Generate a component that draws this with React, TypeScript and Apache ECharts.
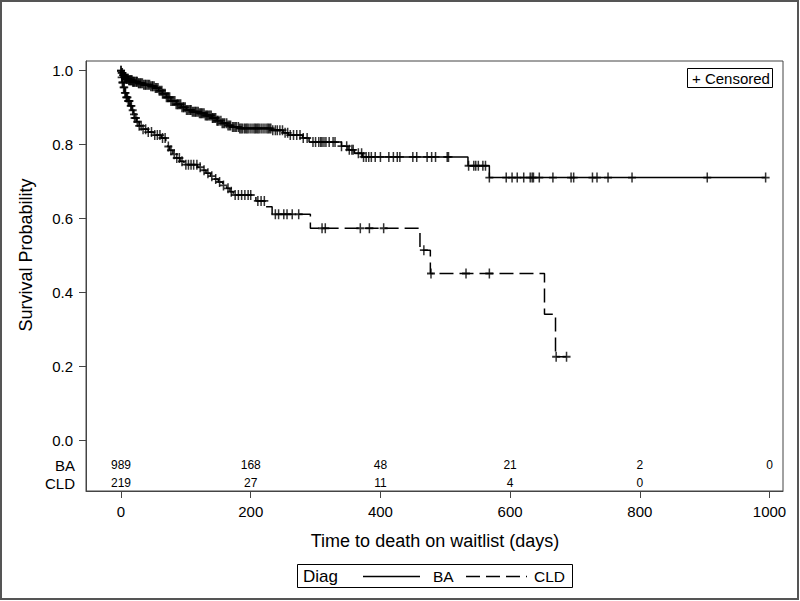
import React, { useEffect, useRef } from "react";
import * as echarts from "echarts";

const FONT = "'Liberation Sans', Arial, Helvetica, sans-serif";

// Kaplan-Meier step data (days, survival after step)
const baTimes = [0, 1, 3, 5, 8, 12, 18, 26, 35, 45, 52, 58, 64, 70, 77, 85, 93, 101, 110, 120, 130, 140, 148, 156, 164, 172, 182, 232, 250, 258, 280, 290, 340, 350, 360, 372, 535, 568, 994];
const baSurv = [1.0, 0.994, 0.988, 0.983, 0.978, 0.974, 0.97, 0.966, 0.962, 0.958, 0.953, 0.946, 0.938, 0.928, 0.918, 0.909, 0.901, 0.894, 0.889, 0.885, 0.879, 0.872, 0.865, 0.858, 0.852, 0.848, 0.844, 0.839, 0.832, 0.826, 0.818, 0.807, 0.796, 0.786, 0.777, 0.767, 0.743, 0.711, 0.711];
const baCensor = [0, 1, 2, 3, 4, 5, 6, 7, 8, 9, 10, 11, 12, 13, 14, 15, 16, 17, 18, 19, 20, 21, 23, 24, 25, 27, 28, 30, 31, 33, 35, 37, 38, 40, 42, 44, 46, 48, 49, 51, 53, 55, 57, 59, 61, 63, 64, 66, 68, 70, 72, 73, 75, 77, 79, 81, 83, 85, 87, 88, 90, 92, 94, 96, 97, 99, 101, 103, 105, 107, 108, 110, 112, 114, 115, 117, 119, 121, 123, 124, 126, 128, 130, 132, 133, 135, 137, 139, 141, 142, 144, 146, 148, 149, 151, 154, 156, 158, 160, 163, 165, 167, 169, 172, 174, 176, 178, 181, 183, 185, 187, 190, 192, 194, 196, 199, 202, 205, 207, 209, 211, 213, 216, 219, 222, 225, 227, 229, 231, 234, 238, 241, 245, 249, 253, 257, 261, 266, 271, 276, 281, 287, 296, 300, 305, 308, 310, 313, 316, 321, 327, 330, 340, 348, 352, 356, 358, 366, 371, 374, 378, 382, 386, 392, 400, 413, 420, 426, 430, 450, 456, 472, 479, 485, 503, 505, 536, 544, 547, 551, 558, 562, 568, 594, 603, 611, 621, 631, 634, 636, 645, 666, 694, 698, 727, 734, 751, 788, 904, 994];

const cldTimes = [0, 1, 2, 4, 6, 8, 11, 14, 17, 19, 21, 24, 28, 33, 42, 50, 62, 69, 72, 75, 80, 85, 91, 97, 118, 124, 131, 138, 143, 150, 157, 163, 168, 173, 208, 222, 233, 292, 461, 477, 653, 670, 687];
const cldSurv = [1.0, 0.982, 0.968, 0.955, 0.94, 0.928, 0.918, 0.905, 0.893, 0.882, 0.872, 0.862, 0.851, 0.842, 0.834, 0.826, 0.818, 0.805, 0.795, 0.785, 0.774, 0.764, 0.755, 0.746, 0.739, 0.731, 0.723, 0.715, 0.707, 0.699, 0.69, 0.682, 0.673, 0.664, 0.648, 0.632, 0.612, 0.574, 0.515, 0.452, 0.342, 0.227, 0.227];
const cldCensor = [0, 1, 2, 3, 4, 5, 6, 7, 8, 9, 10, 11, 12, 13, 15, 16, 18, 20, 21, 23, 25, 28, 31, 34, 38, 42, 47, 52, 56, 60, 64, 68, 73, 77, 82, 86, 90, 94, 100, 104, 108, 112, 117, 122, 128, 134, 140, 146, 152, 158, 165, 170, 176, 181, 186, 191, 196, 200, 211, 216, 221, 238, 243, 251, 256, 264, 274, 310, 315, 369, 383, 405, 467, 478, 532, 568, 671, 687];

const xTicks = [0, 200, 400, 600, 800, 1000];
const yTicks = [0, 0.2, 0.4, 0.6, 0.8, 1.0];
const riskDays = [0, 200, 400, 600, 800, 1000];
const baAtRisk = [989, 168, 48, 21, 2, 0];
const cldAtRisk = [219, 27, 11, 4, 0];

// layout constants (pixel rows of the at-risk table)
const ROW_BA_PX = 465;
const ROW_CLD_PX = 483;
const PLUS = "path://M7.3,0H10.7V7.3H18V10.7H10.7V18H7.3V10.7H0V7.3H7.3Z";

function survAt(times: number[], surv: number[], t: number) {
  let s = surv[0];
  for (let i = 0; i < times.length; i++) {
    if (times[i] <= t) s = surv[i];
    else break;
  }
  return s;
}

export default function App() {
  const ref = useRef<HTMLDivElement>(null);
  useEffect(() => {
    const chart = echarts.init(ref.current!, null, { renderer: "svg" });
    const txt = (text: string, x: number, y: number, size: number, align = "left", extra: any = {}) => ({
      type: "text",
      x,
      y,
      ...extra,
      style: {
        text,
        font: `${size}px ${FONT}`,
        fill: "#000",
        align,
        verticalAlign: "middle",
        textAlign: align,
        textVerticalAlign: "middle",
      },
    });
    const staticGraphics: any[] = [
      {
        type: "rect",
        shape: { x: 1, y: 1, width: 797, height: 598 },
        style: { fill: "none", stroke: "#555", lineWidth: 2 },
        silent: true,
      },
      {
        type: "rect",
        shape: { x: 687.5, y: 68.5, width: 85, height: 19 },
        style: { fill: "#fff", stroke: "#000", lineWidth: 1 },
        z: 10,
      },
      txt("+ Censored", 692, 78, 15, "left", { z: 11 }),
      txt("BA", 75, ROW_BA_PX, 15, "right"),
      txt("CLD", 75, ROW_CLD_PX, 15, "right"),
      txt("Time to death on waitlist (days)", 435, 541, 18, "center"),
      txt("Survival Probability", 26, 255, 18, "center", { rotation: Math.PI / 2 }),
      {
        type: "rect",
        shape: { x: 297.5, y: 564.5, width: 275, height: 23 },
        style: { fill: "#fff", stroke: "#000", lineWidth: 1 },
      },
      txt("Diag", 303, 576, 17, "left"),
      {
        type: "line",
        shape: { x1: 363, y1: 576.5, x2: 420, y2: 576.5 },
        style: { stroke: "#000", lineWidth: 1.3 },
      },
      txt("BA", 433, 576, 15.5, "left"),
      {
        type: "line",
        shape: { x1: 466, y1: 576.5, x2: 527, y2: 576.5 },
        style: { stroke: "#000", lineWidth: 1.3, lineDash: [14, 6] },
      },
      txt("CLD", 534, 576, 15.5, "left"),
    ];
    chart.setOption({
      animation: false,
      backgroundColor: "#fff",
      grid: {
        left: 86,
        top: 61,
        width: 697,
        height: 430,
        show: true,
        borderColor: "#444",
        borderWidth: 1,
        backgroundColor: "transparent",
      },
      xAxis: {
        type: "value",
        min: -54,
        max: 1020.8,
        axisLine: { show: true, onZero: false, lineStyle: { color: "#444", width: 1 } },
        axisTick: { show: true, customValues: xTicks, length: 7, lineStyle: { color: "#444" } },
        axisLabel: {
          customValues: xTicks,
          margin: 13,
          fontSize: 15,
          fontFamily: FONT,
          color: "#000",
          formatter: (v: number) => String(v),
        },
        splitLine: { show: false },
      },
      yAxis: {
        type: "value",
        min: -0.136,
        max: 1.0262,
        axisLine: { show: true, onZero: false, lineStyle: { color: "#444", width: 1 } },
        axisTick: { show: true, customValues: yTicks, length: 7, lineStyle: { color: "#444" } },
        axisLabel: {
          customValues: yTicks,
          margin: 13,
          fontSize: 15,
          fontFamily: FONT,
          color: "#000",
          formatter: (v: number) => v.toFixed(1),
        },
        splitLine: { show: false },
      },
      series: [
        {
          name: "BA",
          type: "line",
          step: "end",
          symbol: "none",
          data: baTimes.map((t, i) => [t, baSurv[i]]),
          lineStyle: { color: "#000", width: 1.5 },
          z: 3,
        },
        {
          name: "CLD",
          type: "line",
          step: "end",
          symbol: "none",
          data: cldTimes.map((t, i) => [t, cldSurv[i]]),
          lineStyle: { color: "#000", width: 1.5, type: [14, 6] },
          z: 3,
        },
        {
          name: "BA censored",
          type: "scatter",
          symbol: PLUS,
          symbolSize: [8, 10],
          data: baCensor.map((t) => [t, survAt(baTimes, baSurv, t)]),
          itemStyle: { color: "#000" },
          z: 4,
        },
        {
          name: "CLD censored",
          type: "scatter",
          symbol: PLUS,
          symbolSize: [8, 10],
          data: cldCensor.map((t) => [t, survAt(cldTimes, cldSurv, t)]),
          itemStyle: { color: "#000" },
          z: 4,
        },
      ],
      graphic: staticGraphics,
    });
    // at-risk table: x positions through the chart's own x scale
    const riskTexts: any[] = [];
    const pushRow = (counts: number[], rowPx: number) => {
      counts.forEach((n, i) => {
        const px = chart.convertToPixel({ xAxisIndex: 0 }, riskDays[i]) as number;
        riskTexts.push(txt(String(n), px, rowPx, 12, "center"));
      });
    };
    pushRow(baAtRisk, ROW_BA_PX);
    pushRow(cldAtRisk, ROW_CLD_PX);
    chart.setOption({ graphic: [...staticGraphics, ...riskTexts] });
    return () => chart.dispose();
  }, []);
  return (
    <div
      ref={ref}
      style={{ position: "fixed", left: 0, top: 0, width: 800, height: 601, background: "#fff" }}
    />
  );
}
